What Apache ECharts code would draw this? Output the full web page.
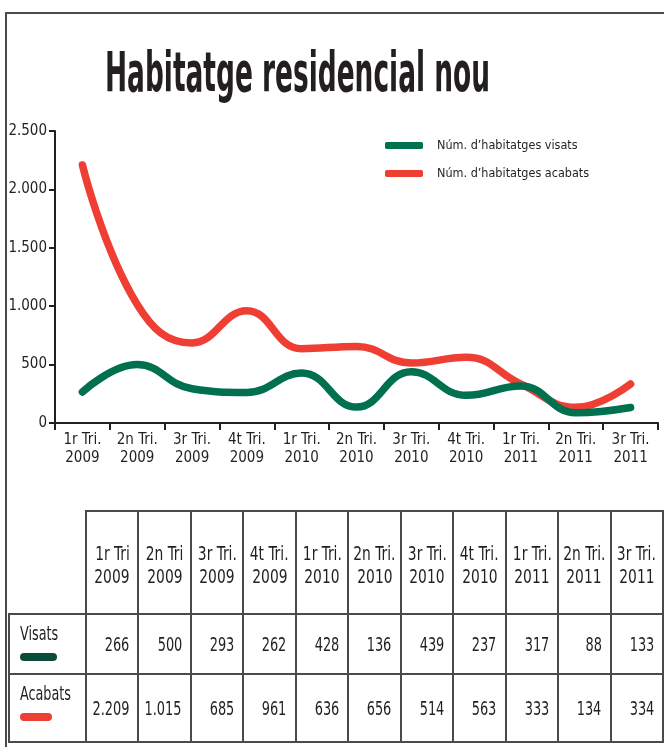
<!DOCTYPE html>
<html lang="ca" style="height: 100%">
<head>
  <meta charset="utf-8">
  <style>
    body { margin: 0; background: #fff; }
    #wrap { position: relative; width: 664px; height: 749px; overflow: hidden; }
    #frame { position: absolute; left: 5px; top: 12px; width: 700px; height: 735px;
             border-left: 2px solid #4a4a4a; border-top: 2px solid #4a4a4a; box-sizing: border-box; }
    #container { position: absolute; left: 0; top: 0; width: 664px; height: 749px; }
    #taula { position: absolute; left: 8px; top: 510px; width: 656px; table-layout: fixed; border-collapse: collapse;
             font-family: "Noto Sans ExtraCondensed", "Noto Sans Condensed", "DejaVu Sans Condensed", sans-serif;
             color: #231f20; font-size: 20px; }
    #taula td { border: 2px solid #4a4a4a; padding: 0; box-sizing: border-box; white-space: nowrap; }
    #taula td.buit { border: none; border-right: 2px solid #4a4a4a; border-bottom: 2px solid #4a4a4a; }
    #taula td.cap { height: 103px; line-height: 23px; padding-top: 4px; }
    #taula td.num { padding-right: 8px; }
    #taula td.etq { vertical-align: top; padding: 6px 0 0 10px; }
    #taula .d { display: flex; justify-content: flex-end; }
    #taula td.cap .d { justify-content: center; }
    #taula td.etq .d { justify-content: flex-start; }
    #taula .t { flex-shrink: 0; transform-origin: 100% 50%; }
    #taula td.cap .t { transform-origin: 50% 50%; }
    #taula td.etq .t { transform-origin: 0 50%; }
    .marca { display: block; width: 37px; height: 8px; border-radius: 4px; margin-top: 8px; }
  </style>
</head>
<body>
  <div id="wrap">
    <div id="frame"></div>
    <div id="container"></div>
    <table id="taula"><colgroup id="cols"></colgroup></table>
  </div>

  <script type="text/javascript" src="https://cdn.jsdelivr.net/npm/echarts@6/dist/echarts.min.js"></script>
  <script type="text/javascript">
    // dades (trimestres 2009-2011)
    var categories = ['1r Tri.\n2009', '2n Tri.\n2009', '3r Tri.\n2009', '4t Tri.\n2009',
      '1r Tri.\n2010', '2n Tri.\n2010', '3r Tri.\n2010', '4t Tri.\n2010',
      '1r Tri.\n2011', '2n Tri.\n2011', '3r Tri.\n2011'];
    var tableHeads = ['1r Tri\n2009', '2n Tri\n2009', '3r Tri.\n2009', '4t Tri.\n2009',
      '1r Tri.\n2010', '2n Tri.\n2010', '3r Tri.\n2010', '4t Tri.\n2010',
      '1r Tri.\n2011', '2n Tri.\n2011', '3r Tri.\n2011'];
    var visats = [266, 500, 293, 262, 428, 136, 439, 237, 317, 88, 133];
    var acabats = [2209, 1015, 685, 961, 636, 656, 514, 563, 333, 134, 334];
    var yTicks = [0, 500, 1000, 1500, 2000, 2500];
    var titol = 'Habitatge residencial nou';

    var VERD = '#00704f';
    var VERMELL = '#ef3e33';
    var FONT = '"Noto Sans ExtraCondensed", "Noto Sans Condensed", "DejaVu Sans Condensed", sans-serif';

    function punts(v) {
      return String(v).replace(/\B(?=(\d{3})+(?!\d))/g, '.');
    }

    // factor d'estrenyiment perque el text ocupi l'amplada volguda
    var ctx = document.createElement('canvas').getContext('2d');
    function escala(text, font, ample) {
      ctx.font = font;
      return Math.min(1, ample / ctx.measureText(text).width);
    }
    function tros(text, s) {
      return '<div class="d"><span class="t" style="transform:scaleX(' + s.toFixed(3) + ')">' + text + '</span></div>';
    }

    // taula de sota
    var sNum = escala('2.209', '20px ' + FONT, 37);
    var sCap = escala('3r Tri.', '20px ' + FONT, 39);
    var sEtq = escala('Acabats', '20px ' + FONT, 51);
    var taula = document.getElementById('taula');
    var html = '<colgroup><col style="width:77px">';
    tableHeads.forEach(function () { html += '<col>'; });
    html += '</colgroup><tr><td class="buit"></td>';
    tableHeads.forEach(function (h) {
      html += '<td class="cap">' + h.split('\n').map(function (l) { return tros(l, sCap); }).join('') + '</td>';
    });
    html += '</tr>';
    [['Visats', visats, '#0b4d3a', 60, 37], ['Acabats', acabats, VERMELL, 68, 32]].forEach(function (r) {
      html += '<tr style="height:' + r[3] + 'px"><td class="etq">' + tros(r[0], sEtq) +
        '<span class="marca" style="background:' + r[2] + ';width:' + r[4] + 'px"></span></td>';
      r[1].forEach(function (v) {
        html += '<td class="num">' + tros(punts(v), sNum) + '</td>';
      });
      html += '</tr>';
    });
    taula.innerHTML = html;

    var dom = document.getElementById('container');
    var myChart = echarts.init(dom, null, { renderer: 'canvas' });
    var option;

    var sTitol = escala(titol, 'bold 56px ' + FONT, 385);

    option = {
      animation: false,
      textStyle: { fontFamily: FONT, color: '#231f20' },
      graphic: [{
        type: 'text',
        x: 105,
        y: 76,
        scaleX: sTitol,
        style: {
          text: titol,
          fontFamily: FONT,
          fontSize: 56,
          fontWeight: 'bold',
          fill: '#231f20',
          verticalAlign: 'middle'
        }
      }],
      legend: {
        orient: 'vertical',
        left: 385,
        top: 139,
        padding: 0,
        itemWidth: 38,
        itemHeight: 7,
        itemGap: 15,
        icon: 'roundRect',
        textStyle: { fontFamily: FONT, fontSize: 12.5, color: '#231f20', padding: [0, 0, 0, 9] },
        data: ['Núm. d\u2019habitatges visats', 'Núm. d\u2019habitatges acabats']
      },
      grid: { left: 55, right: 6, top: 131, bottom: 326, containLabel: false },
      xAxis: {
        type: 'category',
        data: categories,
        boundaryGap: true,
        axisLine: { lineStyle: { color: '#231f20', width: 2 } },
        axisTick: { show: true, length: 7, lineStyle: { color: '#231f20', width: 2 } },
        axisLabel: { color: '#231f20', fontFamily: FONT, fontSize: 15, lineHeight: 18, margin: 8, interval: 0 }
      },
      yAxis: {
        type: 'value',
        min: yTicks[0],
        max: yTicks[yTicks.length - 1],
        interval: yTicks[1] - yTicks[0],
        splitLine: { show: false },
        axisLine: { show: true, lineStyle: { color: '#231f20', width: 2 } },
        axisTick: { show: true, length: 6, lineStyle: { color: '#231f20', width: 2 } },
        axisLabel: { color: '#231f20', fontFamily: FONT, fontSize: 15, margin: 8, formatter: punts }
      },
      series: [
        {
          name: 'Núm. d\u2019habitatges visats',
          type: 'line',
          data: visats,
          smooth: 0.45,
          symbol: 'none',
          color: VERD,
          z: 3,
          lineStyle: { width: 7.5, color: VERD, cap: 'round' }
        },
        {
          name: 'Núm. d\u2019habitatges acabats',
          type: 'line',
          data: acabats,
          smooth: 0.45,
          symbol: 'none',
          color: VERMELL,
          z: 2,
          lineStyle: { width: 7.5, color: VERMELL, cap: 'round' }
        }
      ]
    };

    if (option && typeof option === 'object') {
      myChart.setOption(option);
    }

    window.addEventListener('resize', myChart.resize);
  </script>
</body>
</html>
